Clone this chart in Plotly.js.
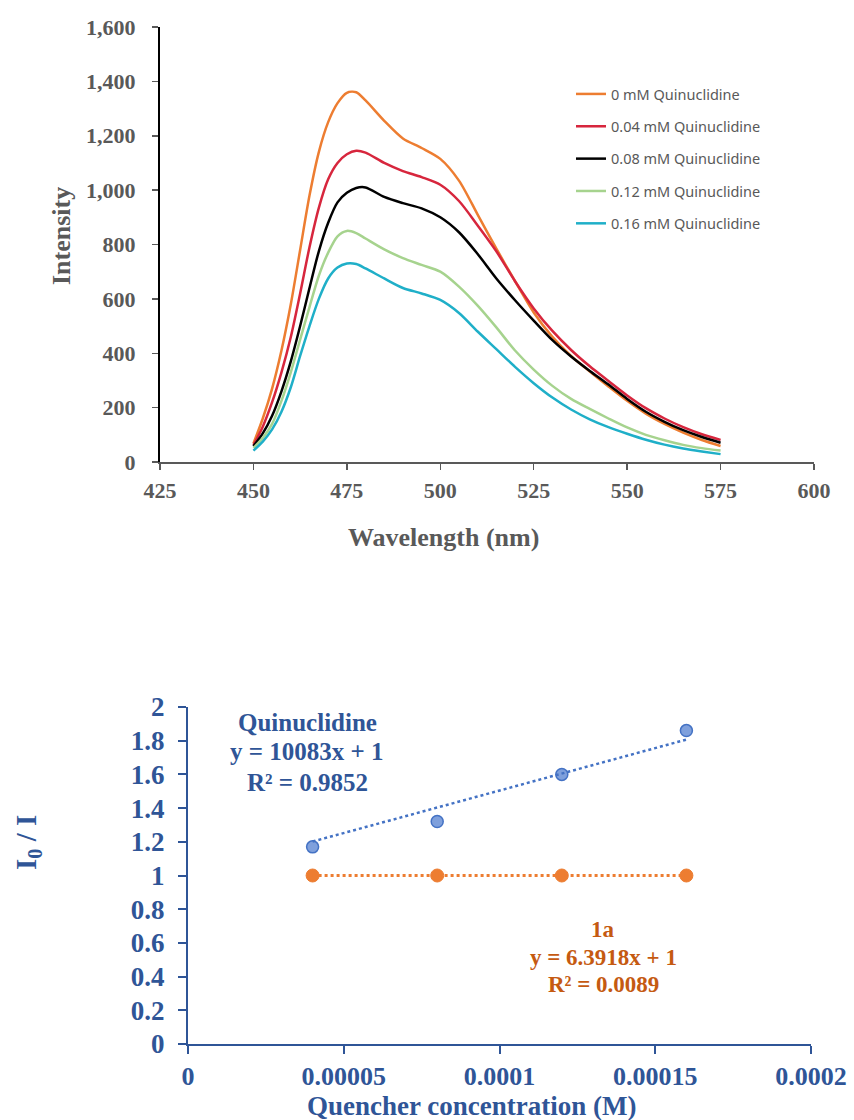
<!DOCTYPE html>
<html>
<head>
<meta charset="utf-8">
<script src="https://cdn.plot.ly/plotly-3.0.1.min.js"></script>
<style>
  html, body { margin: 0; padding: 0; background: #fff; }
  #chart { width: 854px; height: 1120px; }
</style>
</head>
<body>
<div id="chart"></div>
<script>
// ---------- Top chart: emission spectra ----------
const wavelength = [450, 452.5, 455, 457.5, 460, 462.5, 465, 467.5, 470, 472.5, 475, 477.5, 480, 485, 490, 495, 500, 505, 510, 515, 520, 525, 530, 535, 540, 545, 550, 555, 560, 565, 570, 575];
const int_0mM    = [68, 160, 270, 410, 580, 780, 980, 1140, 1250, 1320, 1358, 1360, 1330, 1255, 1190, 1155, 1115, 1035, 910, 785, 665, 550, 460, 390, 333, 278, 225, 178, 140, 108, 81, 59];
const int_004mM  = [62, 130, 220, 330, 460, 620, 790, 935, 1040, 1100, 1132, 1145, 1138, 1100, 1070, 1048, 1020, 960, 870, 775, 665, 565, 482, 412, 352, 298, 245, 198, 160, 128, 102, 81];
const int_008mM  = [58, 105, 170, 260, 370, 500, 640, 775, 880, 955, 990, 1008, 1010, 975, 952, 933, 900, 845, 765, 675, 595, 520, 448, 388, 335, 285, 232, 185, 148, 117, 92, 71];
const int_012mM  = [52, 88, 140, 225, 330, 450, 570, 685, 770, 830, 850, 842, 822, 782, 750, 725, 700, 645, 575, 495, 410, 340, 280, 232, 195, 160, 127, 100, 80, 63, 51, 42];
const int_016mM  = [42, 75, 120, 185, 275, 390, 500, 600, 675, 715, 730, 728, 712, 675, 640, 620, 596, 548, 480, 415, 350, 290, 237, 193, 157, 128, 104, 82, 64, 50, 39, 29];
const spectraNames = ["0 mM Quinuclidine", "0.04 mM Quinuclidine", "0.08 mM Quinuclidine", "0.12 mM Quinuclidine", "0.16 mM Quinuclidine"];
const spectraColors = ["#ED7D31", "#D7263D", "#000000", "#A6D38E", "#1FAFC8"];

// ---------- Bottom chart: Stern-Volmer ----------
const quencherConc = [0.00004, 0.00008, 0.00012, 0.00016];
const ratio_quinuclidine = [1.17, 1.32, 1.60, 1.86];
const ratio_1a = [1.0, 1.0, 1.0, 1.0];
const svXTickVals = [0, 0.00005, 0.0001, 0.00015, 0.0002];
const svXTickText = ["0", "0.00005", "0.0001", "0.00015", "0.0002"];

// trendline with intercept fixed at 1 (as in the spreadsheet fit)
function fitFixedIntercept(xs, ys) {
  let sxy = 0, sxx = 0;
  for (let i = 0; i < xs.length; i++) { sxy += xs[i] * (ys[i] - 1); sxx += xs[i] * xs[i]; }
  const k = sxy / sxx;
  const xEnds = [Math.min(...xs), Math.max(...xs)];
  return { x: xEnds, y: xEnds.map(v => k * v + 1) };
}

const H = 1120, W = 854;
const px = v => v / W;
const py = v => 1 - v / H;

const spectraSeries = [int_0mM, int_004mM, int_008mM, int_012mM, int_016mM];
const traces = spectraSeries.map((ys, i) => ({
  type: 'scatter', mode: 'lines', x: wavelength, y: ys,
  name: spectraNames[i], legendgroup: 'g' + i,
  line: { color: spectraColors[i], width: 2.5, shape: 'spline', smoothing: 0.8 },
  xaxis: 'x', yaxis: 'y', hoverinfo: 'skip'
}));

const fitQ = fitFixedIntercept(quencherConc, ratio_quinuclidine);
const fitA = fitFixedIntercept(quencherConc, ratio_1a);

traces.push({
  type: 'scatter', mode: 'markers', x: quencherConc, y: ratio_1a, showlegend: false,
  marker: { color: '#ED7D31', size: 13, line: { color: '#ED7D31', width: 1 } },
  xaxis: 'x2', yaxis: 'y2'
});
traces.push({
  type: 'scatter', mode: 'markers', x: quencherConc, y: ratio_quinuclidine, showlegend: false,
  marker: { color: '#7FA0DC', size: 12, line: { color: '#4472C4', width: 1.5 } },
  xaxis: 'x2', yaxis: 'y2'
});
traces.push({
  type: 'scatter', mode: 'lines', x: fitA.x, y: fitA.y, showlegend: false,
  line: { color: '#ED7D31', width: 3, dash: 'dot' }, xaxis: 'x2', yaxis: 'y2'
});
traces.push({
  type: 'scatter', mode: 'lines', x: fitQ.x, y: fitQ.y, showlegend: false,
  line: { color: '#4472C4', width: 2.5, dash: 'dot' }, xaxis: 'x2', yaxis: 'y2'
});

const serifGray = { family: 'Liberation Serif', size: 22, color: '#595959', weight: 'bold' };
const serifBlue = { family: 'Liberation Serif', size: 27, color: '#2F5597', weight: 'bold' };
const serifBlueX = { family: 'Liberation Serif', size: 26, color: '#2F5597', weight: 'bold' };

function note(x, y, text, size, color, angle) {
  return { xref: 'paper', yref: 'paper', x: px(x), y: py(y), text: text, textangle: angle || 0,
    xanchor: 'center', yanchor: 'middle', showarrow: false,
    font: { family: 'Liberation Serif', size: size, color: color, weight: 'bold' } };
}

const layout = {
  width: W, height: H,
  margin: { l: 0, r: 0, t: 0, b: 0 },
  paper_bgcolor: '#fff', plot_bgcolor: 'rgba(0,0,0,0)',
  showlegend: true,
  legend: {
    x: px(571), y: py(78), xanchor: 'left', yanchor: 'top',
    font: { family: 'Noto Sans', size: 14.5, color: '#595959' },
    traceorder: 'grouped', tracegroupgap: 10.5, bgcolor: 'rgba(0,0,0,0)',
    itemwidth: 30
  },
  xaxis: {
    domain: [px(160), px(814)], anchor: 'y',
    range: [425, 600], dtick: 25, tick0: 425,
    showgrid: false, zeroline: false,
    showline: true, linecolor: '#595959', linewidth: 1.5,
    ticks: 'outside', ticklen: 6, tickwidth: 1.5, tickcolor: '#595959',
    tickfont: serifGray, ticklabelstandoff: 2
  },
  yaxis: {
    domain: [py(462), py(27)], anchor: 'x',
    range: [0, 1600], dtick: 200, tickformat: ',',
    showgrid: false, zeroline: false,
    showline: true, linecolor: '#000', linewidth: 2,
    ticks: 'outside', ticklen: 6, tickwidth: 1.5, tickcolor: '#595959',
    tickfont: serifGray, ticklabelstandoff: 12
  },
  xaxis2: {
    domain: [px(188), px(811)], anchor: 'y2',
    range: [0, 0.0002], tickmode: 'array', tickvals: svXTickVals, ticktext: svXTickText,
    showgrid: false, zeroline: false,
    showline: true, linecolor: '#2F5597', linewidth: 2,
    ticks: 'outside', ticklen: 8, tickwidth: 2, tickcolor: '#2F5597',
    tickfont: serifBlueX, ticklabelstandoff: 0
  },
  yaxis2: {
    domain: [py(1044), py(707)], anchor: 'x2',
    range: [0, 2], dtick: 0.2,
    showgrid: false, zeroline: false,
    showline: true, linecolor: '#2F5597', linewidth: 2,
    ticks: 'outside', ticklen: 8, tickwidth: 2, tickcolor: '#2F5597',
    tickfont: serifBlue, ticklabelstandoff: 8
  },
  annotations: [
    note(61, 236, 'Intensity', 26, '#595959', -90),
    note(443, 537, 'Wavelength (nm)', 26, '#595959'),
    note(28, 843, 'I<sub>0</sub> / I', 29, '#2F5597', -90),
    note(472, 1106, 'Quencher concentration (M)', 27, '#2F5597'),
    note(307, 722, 'Quinuclidine', 25, '#2F5597'),
    note(307, 752, 'y = 10083x + 1', 25, '#2F5597'),
    note(307, 782, 'R² = 0.9852', 25, '#2F5597'),
    note(603, 929, '1a', 23, '#C55A11'),
    note(603, 957, 'y = 6.3918x + 1', 23, '#C55A11'),
    note(603, 984, 'R² = 0.0089', 23, '#C55A11')
  ]
};

Plotly.newPlot('chart', traces, layout, { staticPlot: true, displayModeBar: false });
</script>
</body>
</html>
